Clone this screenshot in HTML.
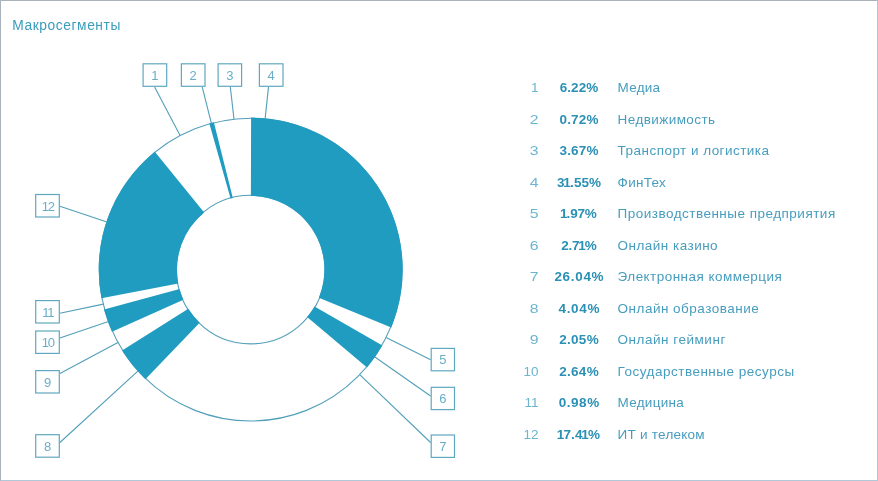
<!DOCTYPE html>
<html lang="ru"><head><meta charset="utf-8"><title>Макросегменты</title>
<style>
html,body{margin:0;padding:0;background:#fff}
body{width:878px;height:481px;position:relative;overflow:hidden;font-family:"Liberation Sans",sans-serif}
.frame{position:absolute;left:0;top:0;width:876px;height:479px;border:1px solid;border-color:#aab3bd #b8c6d1 #b0c8d8 #aab2be}
.title{position:absolute;left:12.3px;top:16px;font-size:13.8px;line-height:20px;letter-spacing:0.56px;color:#3a9cbd;white-space:nowrap}
svg{position:absolute;left:0;top:0}
.bx{font-family:"Liberation Sans",sans-serif;font-size:13px;fill:#68aeca}
.row{position:absolute;left:0;height:20px;line-height:20px;font-size:13.5px;white-space:nowrap}
.row span{position:absolute;top:0}
.n{left:478.6px;width:60px;text-align:right;color:#6bb5d0}
.p{left:539px;width:80px;text-align:center;font-weight:bold;color:#2b90b5;font-size:13.5px}
.n.w{transform:translateX(-0.5px) scaleX(1.17);transform-origin:100% 50%}
.p i{font-style:normal;margin:0 -0.8px 0 -1.2px}
.l{left:617.6px;color:#479dbe}
</style></head><body>
<div class="frame"></div>
<div class="title">Макросегменты</div>
<svg width="878" height="481" viewBox="0 0 878 481">
<circle cx="250.7" cy="269.6" r="151.4" fill="#fff" stroke="#529fb9" stroke-width="1.1"/>
<circle cx="250.7" cy="269.6" r="74.3" fill="#fff" stroke="#529fb9" stroke-width="1.1"/>
<path d="M251.10 117.60A152.0 152.0 0 0 1 391.25 327.47L318.85 297.66A73.7 73.7 0 0 0 250.89 195.90Z" fill="#219cc1"/>
<path d="M382.37 345.54A152.0 152.0 0 0 1 367.01 367.46L307.09 317.05A73.7 73.7 0 0 0 314.54 306.42Z" fill="#219cc1"/>
<path d="M145.41 379.23A152.0 152.0 0 0 1 122.06 350.56L188.32 308.86A73.7 73.7 0 0 0 199.65 322.76Z" fill="#219cc1"/>
<path d="M111.95 331.68A152.0 152.0 0 0 1 104.02 309.45L179.58 288.92A73.7 73.7 0 0 0 183.43 299.70Z" fill="#219cc1"/>
<path d="M101.43 298.27A152.0 152.0 0 0 1 154.80 151.67L204.20 212.42A73.7 73.7 0 0 0 178.32 283.50Z" fill="#219cc1"/>
<path d="M209.30 123.35A152.0 152.0 0 0 1 213.85 122.14L232.83 198.10A73.7 73.7 0 0 0 230.63 198.69Z" fill="#219cc1"/>
<line x1="154.6" y1="86.9" x2="180.1" y2="135.6" stroke="#529fb9" stroke-width="1.1"/>
<line x1="202.2" y1="86.9" x2="211.4" y2="123.4" stroke="#529fb9" stroke-width="1.1"/>
<line x1="230.3" y1="86.9" x2="234.0" y2="119.1" stroke="#529fb9" stroke-width="1.1"/>
<line x1="268.5" y1="86.9" x2="265.1" y2="118.9" stroke="#529fb9" stroke-width="1.1"/>
<line x1="59.9" y1="206.3" x2="107.0" y2="222.0" stroke="#529fb9" stroke-width="1.1"/>
<line x1="59.9" y1="313.3" x2="103.3" y2="304.1" stroke="#529fb9" stroke-width="1.1"/>
<line x1="59.9" y1="338.1" x2="108.5" y2="321.4" stroke="#529fb9" stroke-width="1.1"/>
<line x1="59.9" y1="373.5" x2="117.9" y2="342.4" stroke="#529fb9" stroke-width="1.1"/>
<line x1="59.9" y1="442.5" x2="138.1" y2="370.8" stroke="#529fb9" stroke-width="1.1"/>
<line x1="430.6" y1="359.8" x2="386.1" y2="337.4" stroke="#529fb9" stroke-width="1.1"/>
<line x1="430.6" y1="396.0" x2="374.5" y2="356.8" stroke="#529fb9" stroke-width="1.1"/>
<line x1="430.6" y1="442.5" x2="359.7" y2="374.7" stroke="#529fb9" stroke-width="1.1"/>
<rect x="143.10" y="63.80" width="23.60" height="22.50" fill="#fff" stroke="#60a8bf" stroke-width="1.2"/>
<text x="154.90" y="79.85" text-anchor="middle" class="bx">1</text>
<rect x="181.40" y="63.80" width="23.60" height="22.50" fill="#fff" stroke="#60a8bf" stroke-width="1.2"/>
<text x="193.20" y="79.85" text-anchor="middle" class="bx">2</text>
<rect x="218.10" y="63.80" width="23.50" height="22.50" fill="#fff" stroke="#60a8bf" stroke-width="1.2"/>
<text x="229.85" y="79.85" text-anchor="middle" class="bx">3</text>
<rect x="259.40" y="63.80" width="23.60" height="22.50" fill="#fff" stroke="#60a8bf" stroke-width="1.2"/>
<text x="271.20" y="79.85" text-anchor="middle" class="bx">4</text>
<rect x="35.70" y="194.50" width="23.60" height="22.50" fill="#fff" stroke="#60a8bf" stroke-width="1.2"/>
<text x="47.70" y="210.55" text-anchor="middle" class="bx" style="letter-spacing:-1.2px">12</text>
<rect x="35.70" y="300.60" width="23.60" height="22.40" fill="#fff" stroke="#60a8bf" stroke-width="1.2"/>
<text x="47.70" y="316.60" text-anchor="middle" class="bx" style="letter-spacing:-1.2px">11</text>
<rect x="35.70" y="331.00" width="23.60" height="22.40" fill="#fff" stroke="#60a8bf" stroke-width="1.2"/>
<text x="47.70" y="347.00" text-anchor="middle" class="bx" style="letter-spacing:-1.2px">10</text>
<rect x="35.70" y="370.60" width="23.60" height="22.40" fill="#fff" stroke="#60a8bf" stroke-width="1.2"/>
<text x="47.50" y="386.60" text-anchor="middle" class="bx">9</text>
<rect x="35.70" y="434.70" width="23.60" height="22.50" fill="#fff" stroke="#60a8bf" stroke-width="1.2"/>
<text x="47.50" y="450.75" text-anchor="middle" class="bx">8</text>
<rect x="431.20" y="348.40" width="23.30" height="22.40" fill="#fff" stroke="#60a8bf" stroke-width="1.2"/>
<text x="442.85" y="364.40" text-anchor="middle" class="bx">5</text>
<rect x="431.20" y="387.30" width="23.30" height="22.30" fill="#fff" stroke="#60a8bf" stroke-width="1.2"/>
<text x="442.85" y="403.25" text-anchor="middle" class="bx">6</text>
<rect x="431.20" y="435.00" width="23.30" height="22.40" fill="#fff" stroke="#60a8bf" stroke-width="1.2"/>
<text x="442.85" y="451.00" text-anchor="middle" class="bx">7</text>
</svg>
<div class="row" style="top:78.20px"><span class="n">1</span><span class="p" style="letter-spacing:0.1px;margin-left:0.05px">6.22%</span><span class="l" style="letter-spacing:0.25px">Медиа</span></div>
<div class="row" style="top:109.70px"><span class="n w">2</span><span class="p" style="letter-spacing:0.17px;margin-left:0.09px">0.72%</span><span class="l" style="letter-spacing:0.42px">Недвижимость</span></div>
<div class="row" style="top:141.20px"><span class="n w">3</span><span class="p" style="letter-spacing:0.17px;margin-left:0.09px">3.67%</span><span class="l" style="letter-spacing:0.465px">Транспорт и логистика</span></div>
<div class="row" style="top:172.70px"><span class="n w">4</span><span class="p" style="letter-spacing:0.08px;margin-left:0.04px">3<i>1</i>.55%</span><span class="l" style="letter-spacing:0.28px">ФинТех</span></div>
<div class="row" style="top:204.20px"><span class="n w">5</span><span class="p" style="letter-spacing:-0.15px;margin-left:-0.07px"><i>1</i>.97%</span><span class="l" style="letter-spacing:0.485px">Производственные предприятия</span></div>
<div class="row" style="top:235.70px"><span class="n w">6</span><span class="p" style="letter-spacing:-0.15px;margin-left:-0.07px">2.7<i>1</i>%</span><span class="l" style="letter-spacing:0.47px">Онлайн казино</span></div>
<div class="row" style="top:267.20px"><span class="n w">7</span><span class="p" style="letter-spacing:0.68px;margin-left:0.34px">26.04%</span><span class="l" style="letter-spacing:0.455px">Электронная коммерция</span></div>
<div class="row" style="top:298.70px"><span class="n w">8</span><span class="p" style="letter-spacing:0.7px;margin-left:0.35px">4.04%</span><span class="l" style="letter-spacing:0.49px">Онлайн образование</span></div>
<div class="row" style="top:330.20px"><span class="n w">9</span><span class="p" style="letter-spacing:0.27px;margin-left:0.14px">2.05%</span><span class="l" style="letter-spacing:0.52px">Онлайн гейминг</span></div>
<div class="row" style="top:361.70px"><span class="n">10</span><span class="p" style="letter-spacing:0.27px;margin-left:0.14px">2.64%</span><span class="l" style="letter-spacing:0.5px">Государственные ресурсы</span></div>
<div class="row" style="top:393.20px"><span class="n">11</span><span class="p" style="letter-spacing:0.52px;margin-left:0.26px">0.98%</span><span class="l" style="letter-spacing:0.26px">Медицина</span></div>
<div class="row" style="top:424.70px"><span class="n">12</span><span class="p" style="letter-spacing:0.06px;margin-left:0.03px"><i>1</i>7.4<i>1</i>%</span><span class="l" style="letter-spacing:0.245px">ИТ и телеком</span></div>
</body></html>
